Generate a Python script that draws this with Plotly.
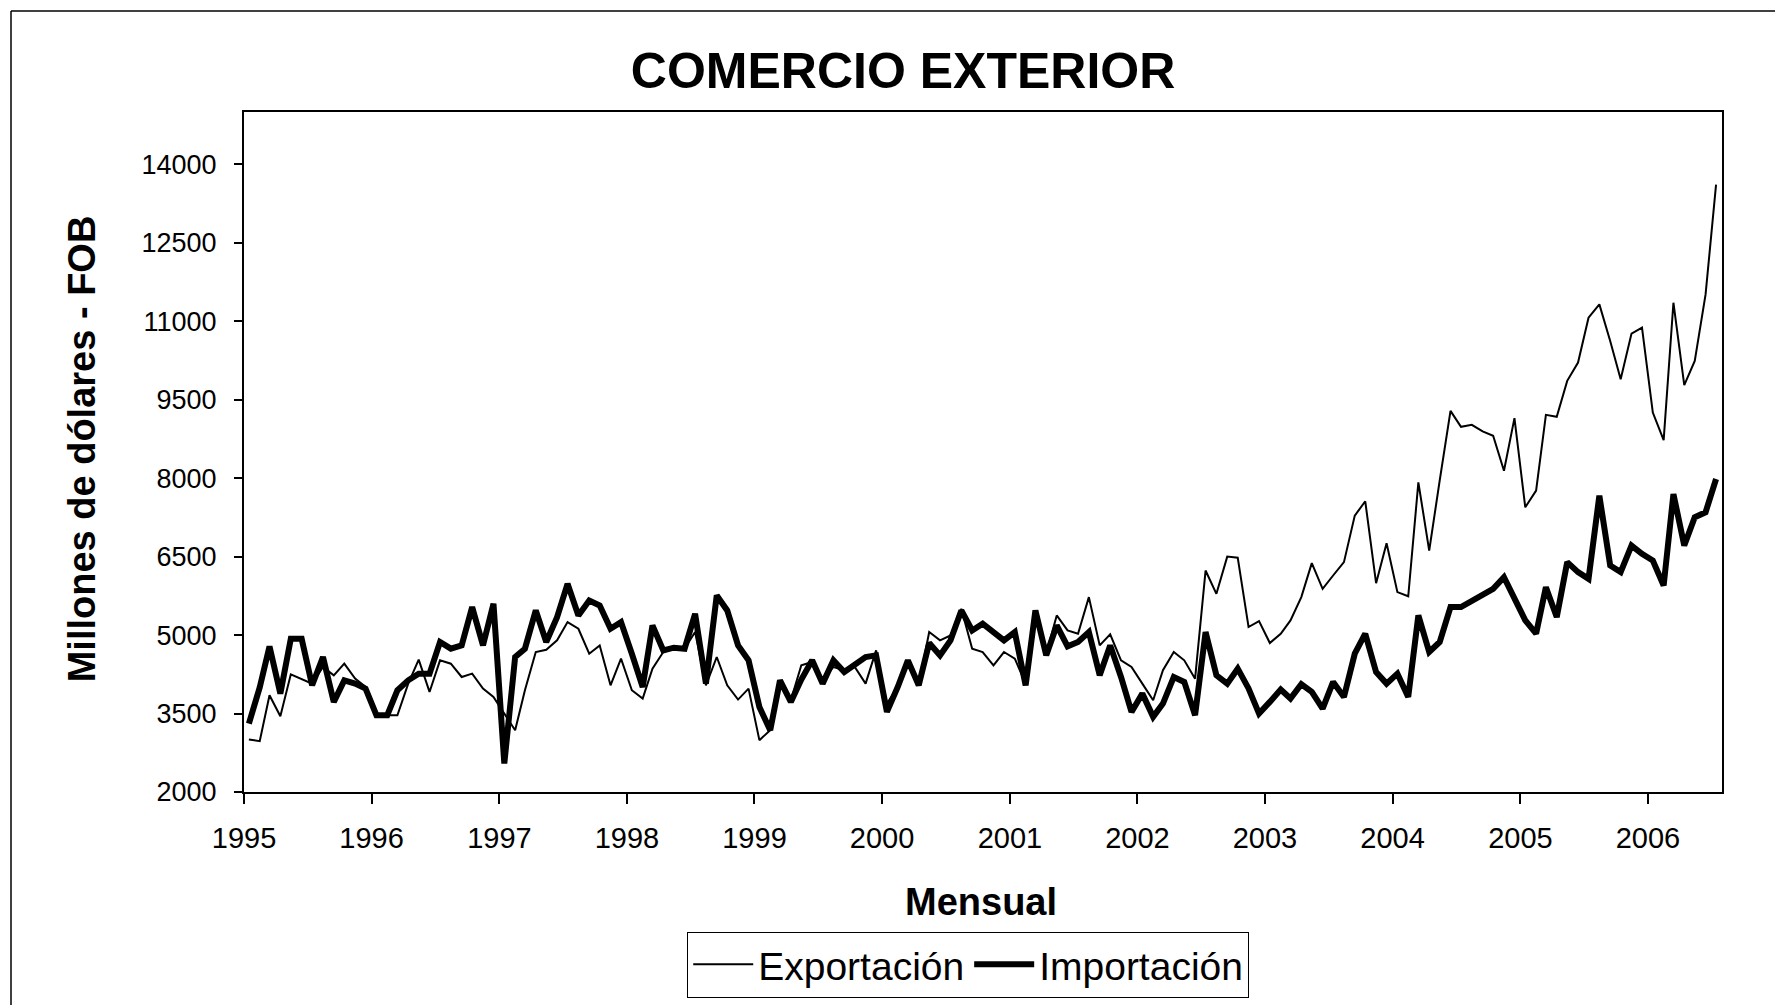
import plotly.graph_objects as go
import pandas as pd

# Monthly values, Jan 1995 - Jul 2006 (millones de dólares FOB)
exportacion = [
    3003, 2972, 3849, 3448, 4250, 4167, 4072, 4390, 4231, 4453, 4167, 4008,
    3468, 3468, 3468, 4072, 4530, 3913, 4517, 4453, 4199, 4263, 3976, 3817,
    3500, 3181, 3945, 4676, 4720, 4899, 5248, 5121, 4644, 4803, 4040, 4549,
    3945, 3786, 4358, 4676, 4740, 4740, 5058, 4040, 4581, 4040, 3767, 3976,
    2991, 3181, 4104, 3754, 4422, 4485, 4135, 4390, 4327, 4390, 4072, 4708,
    3690, 4008, 4517, 4040, 5058, 4899, 4994, 5503, 4740, 4676, 4422, 4676,
    4549, 4072, 5407, 4644, 5376, 5089, 5026, 5725, 4803, 5013, 4517, 4390,
    4072, 3754, 4327, 4676, 4517, 4167, 6234, 5789, 6500, 6480, 5154, 5268,
    4848, 5026, 5281, 5726, 6375, 5885, 6139, 6394, 7284, 7558, 5993, 6756,
    5821, 5742, 7920, 6616, 7951, 9287, 8982, 9020, 8893, 8810, 8142, 9147,
    7443, 7761, 9211, 9172, 9860, 10210, 11068, 11322, 10623, 9891, 10763, 10877,
    9255, 8728, 11354, 9777, 10241, 11513, 13612,
]
importacion = [
    3309, 4000, 4784, 3881, 4930, 4930, 4040, 4581, 3722, 4135, 4072, 3976,
    3468, 3468, 3945, 4135, 4263, 4263, 4867, 4740, 4803, 5535, 4803, 5598,
    2545, 4581, 4740, 5471, 4867, 5344, 5980, 5376, 5662, 5566, 5121, 5248,
    4644, 4008, 5185, 4708, 4759, 4740, 5407, 4072, 5757, 5471, 4803, 4517,
    3627, 3181, 4135, 3722, 4150, 4517, 4072, 4517, 4295, 4453, 4581, 4612,
    3531, 4008, 4517, 4040, 4850, 4612, 4899, 5471, 5089, 5217, 5058, 4899,
    5058, 4040, 5471, 4612, 5185, 4784, 4867, 5058, 4231, 4803, 4199, 3531,
    3881, 3436, 3690, 4199, 4104, 3468, 5058, 4231, 4072, 4358, 3980, 3500,
    3723, 3958, 3786, 4060, 3913, 3595, 4104, 3818, 4645, 5026, 4295, 4072,
    4263, 3817, 5376, 4676, 4867, 5535, 5535, 5662, 5789, 5884, 6107, 5725,
    5280, 5026, 5916, 5344, 6394, 6203, 6075, 7665, 6330, 6203, 6711, 6552,
    6425, 5948, 7697, 6711, 7252, 7348, 7984,
]
meses = pd.date_range("1995-01-01", periods=len(exportacion), freq="MS") + pd.Timedelta(days=14)
y_ticks = [2000, 3500, 5000, 6500, 8000, 9500, 11000, 12500, 14000]

FONT = "Liberation Sans, Arial, sans-serif"

fig = go.Figure()
fig.add_trace(go.Scatter(x=meses, y=exportacion, mode="lines", name="Exportación",
                         line=dict(color="black", width=2)))
fig.add_trace(go.Scatter(x=meses, y=importacion, mode="lines", name="Importación",
                         line=dict(color="black", width=6)))

fig.update_layout(
    width=1783, height=1005,
    paper_bgcolor="white", plot_bgcolor="white",
    margin=dict(l=236, r=69, t=104, b=221),
    font=dict(family=FONT, color="black"),
    title=dict(text="<b>COMERCIO EXTERIOR</b>", x=0.502, xanchor="center",
               y=0.9378, yanchor="middle", font=dict(size=50, family=FONT)),
    showlegend=True,
    legend=dict(orientation="h", x=0.49, xanchor="center", y=-0.2537, yanchor="middle",
                font=dict(size=39, family=FONT), bordercolor="black", borderwidth=1,
                itemwidth=60, tracegroupgap=0),
    annotations=[
        dict(text="<b>Millones de dólares - FOB</b>", xref="paper", yref="paper",
             x=-0.1096, y=0.504, xanchor="center", yanchor="middle", textangle=-90,
             showarrow=False, font=dict(size=38, family=FONT)),
        dict(text="<b>Mensual</b>", xref="paper", yref="paper",
             x=0.4986, y=-0.1618, xanchor="center", yanchor="middle",
             showarrow=False, font=dict(size=38, family=FONT)),
    ],
)
fig.update_xaxes(
    type="date", range=["1995-01-01", "2006-08-01"],
    tick0="1995-01-01", dtick="M12", tickformat="%Y",
    ticks="outside", ticklen=10, tickwidth=1.5, tickcolor="black",
    tickfont=dict(size=29, family=FONT), ticklabelstandoff=9,
    showline=True, linecolor="black", linewidth=2, mirror=True,
    showgrid=False, zeroline=False,
)
fig.update_yaxes(
    range=[2000, 15000], tickvals=y_ticks, ticktext=[str(v) for v in y_ticks],
    ticks="outside", ticklen=8, tickwidth=1.5, tickcolor="black",
    tickfont=dict(size=27, family=FONT), ticklabelstandoff=12,
    showline=True, linecolor="black", linewidth=2, mirror=True,
    showgrid=False, zeroline=False,
)
# outer frame of the picture (top and left edges)
fx = (3 - 236) / 1478
fy = (784 - 3) / 680
fig.add_shape(type="line", xref="paper", yref="paper", x0=fx, x1=1.05,
              y0=fy, y1=fy, line=dict(color="black", width=1.5))
fig.add_shape(type="line", xref="paper", yref="paper", x0=fx, x1=fx,
              y0=fy, y1=-0.4, line=dict(color="black", width=1.5))

fig.write_html("out.html")
